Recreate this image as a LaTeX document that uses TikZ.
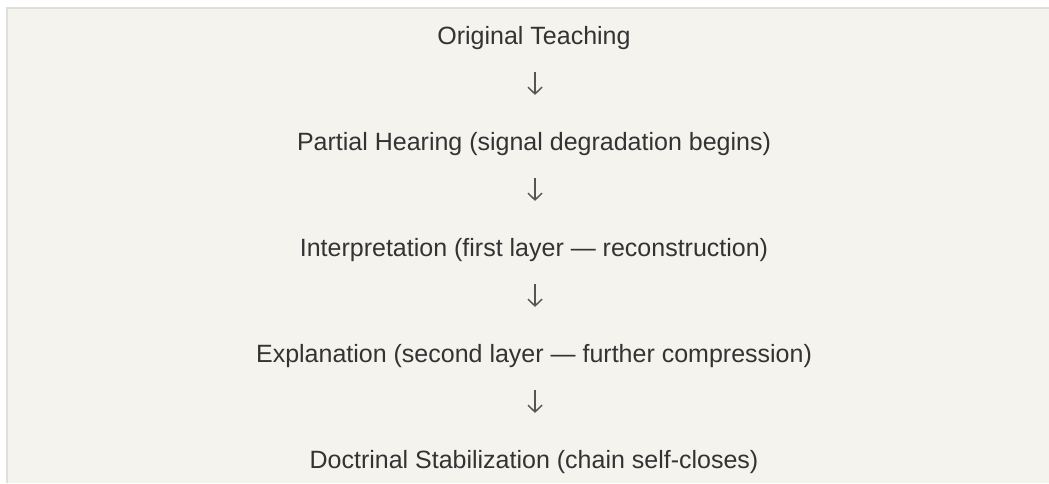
\documentclass[tikz,border=0pt]{standalone}
\usepackage{fontspec}
\setmainfont{Liberation Sans}
\usetikzlibrary{arrows.meta}
\definecolor{bg}{HTML}{F4F3EE}
\definecolor{edge}{HTML}{DFDEDA}
\definecolor{ink}{HTML}{333333}
\definecolor{arr}{HTML}{555555}
\begin{document}
\begin{tikzpicture}[x=0.75pt,y=-0.75pt,
  txt/.style={font=\fontsize{18.75pt}{22pt}\selectfont, text=ink, anchor=base,
    inner sep=0pt, text height=14pt, text depth=4pt},
  flow/.style={draw=arr, line width=1.1pt, shorten <=16.6pt, shorten >=27.5pt,
    -{Straight Barb[length=5pt,width=10.5pt,line width=1.1pt]}}]
\useasboundingbox (0,0) rectangle (1049,483);
\fill[white] (0,0) rectangle (1049,483);
\fill[bg] (6,7) rectangle (1049,483);
\fill[edge] (6,7) rectangle (1049,9);
\fill[edge] (6,7) rectangle (8,483);
\node[txt] (n1) at (534,44.5) {Original Teaching};
\node[txt] (n2) at (534,150.5) {Partial Hearing (signal degradation begins)};
\node[txt] (n3) at (534,256.5) {Interpretation (first layer — reconstruction)};
\node[txt] (n4) at (534,362.5) {Explanation (second layer — further compression)};
\node[txt] (n5) at (534,468.5) {Doctrinal Stabilization (chain self-closes)};
\draw[flow] (n1.south -| 535,0) -- (n2.north -| 535,0);
\draw[flow] (n2.south -| 535,0) -- (n3.north -| 535,0);
\draw[flow] (n3.south -| 535,0) -- (n4.north -| 535,0);
\draw[flow] (n4.south -| 535,0) -- (n5.north -| 535,0);
\end{tikzpicture}
\end{document}
